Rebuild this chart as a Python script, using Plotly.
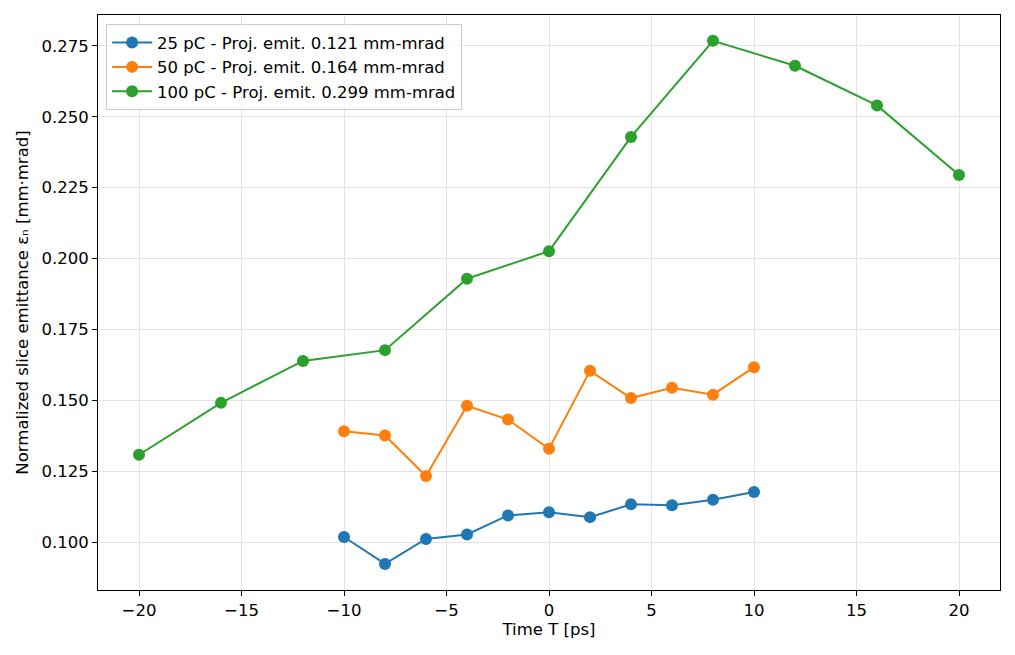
import plotly.graph_objects as go

time_25 = [-10, -8, -6, -4, -2, 0, 2, 4, 6, 8, 10]
emit_25 = [0.1018, 0.0923, 0.1011, 0.1027, 0.1094, 0.1105, 0.1088, 0.1133, 0.1130, 0.1149, 0.1177]

time_50 = [-10, -8, -6, -4, -2, 0, 2, 4, 6, 8, 10]
emit_50 = [0.1391, 0.1376, 0.1233, 0.1481, 0.1432, 0.1329, 0.1604, 0.1508, 0.1544, 0.1520, 0.1617]

time_100 = [-20, -16, -12, -8, -4, 0, 4, 8, 12, 16, 20]
emit_100 = [0.1308, 0.1491, 0.1639, 0.1677, 0.1929, 0.2026, 0.2429, 0.2768, 0.2680, 0.2540, 0.2295]

labels = [
    "25 pC - Proj. emit. 0.121 mm-mrad",
    "50 pC - Proj. emit. 0.164 mm-mrad",
    "100 pC - Proj. emit. 0.299 mm-mrad",
]
colors = ["#1f77b4", "#ff7f0e", "#2ca02c"]

x_ticks = [-20, -15, -10, -5, 0, 5, 10, 15, 20]
y_ticks = [0.100, 0.125, 0.150, 0.175, 0.200, 0.225, 0.250, 0.275]

FS = 16.5

fig = go.Figure()
for xs, ys, lab, col in zip([time_25, time_50, time_100], [emit_25, emit_50, emit_100], labels, colors):
    fig.add_trace(go.Scatter(
        x=xs, y=ys, mode="lines+markers", name=lab,
        line=dict(color=col, width=2),
        marker=dict(color=col, size=12),
    ))

axis_common = dict(
    showline=True, linecolor="black", linewidth=1, mirror=True,
    ticks="outside", ticklen=5, tickwidth=1, tickcolor="black",
    showgrid=True, gridcolor="#e3e3e3", gridwidth=1, zeroline=False,
    tickfont=dict(family="DejaVu Sans", size=FS, color="black"),
)

fig.update_layout(
    width=1000, height=640,
    margin=dict(l=90, r=8, t=7, b=58),
    paper_bgcolor="white", plot_bgcolor="white",
    font=dict(family="DejaVu Sans", size=FS, color="black"),
    xaxis=dict(range=[-22, 22], tickvals=x_ticks,
               title=dict(text="Time T [ps]", font=dict(size=FS), standoff=4),
               **axis_common),
    yaxis=dict(range=[0.0831, 0.2859], tickvals=y_ticks, tickformat=".3f",
               title=dict(text="Normalized slice emittance εₙ [mm·mrad]", font=dict(size=FS), standoff=8),
               **axis_common),
    legend=dict(x=0.009, y=0.984, xanchor="left", yanchor="top",
                bgcolor="rgba(255,255,255,0.8)", bordercolor="#cccccc", borderwidth=1,
                font=dict(family="DejaVu Sans", size=FS), itemwidth=40,
                tracegroupgap=0),
    showlegend=True,
)

fig.write_html("out.html")
